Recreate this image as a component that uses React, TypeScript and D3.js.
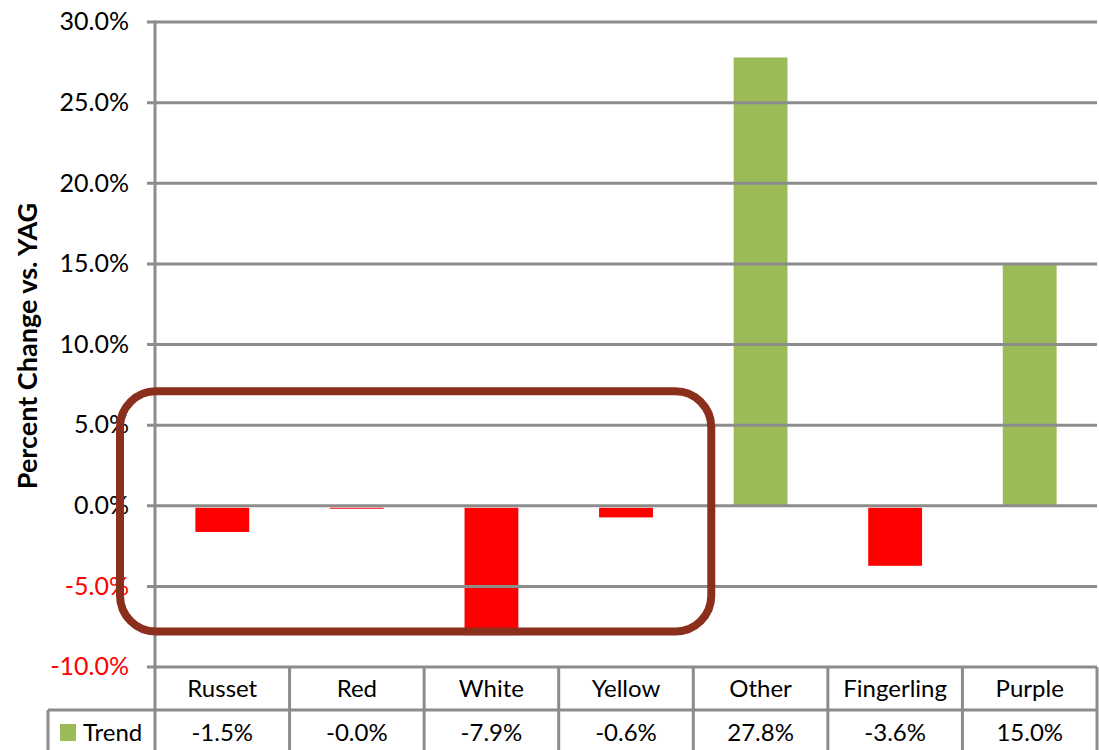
import * as d3 from 'd3';

const categories = ['Russet', 'Red', 'White', 'Yellow', 'Other', 'Fingerling', 'Purple'];
const trend = [-1.5, -0.04, -7.9, -0.6, 27.8, -3.6, 15.0];
const yTicks = [-10, -5, 0, 5, 10, 15, 20, 25, 30];
const seriesName = 'Trend';
const yTitle = 'Percent Change vs. YAG';
// highlighted group (first four categories), box limits in data units
const boxCats = ['Russet', 'Yellow'];
const boxRange = [-7.8, 7.1];

const W = 1099;
const H = 750;
const left = 155;
const right = 1097;
const top = 22;
const bottom = 667;
const row1 = 710;
const row2 = 750;
const font = 'Lato, "Open Sans", sans-serif';
const grid = '#8c8c8c';

const App = () => {
  const x = d3.scaleBand().domain(categories).range([left, right]).paddingInner(0.6).paddingOuter(0.3);
  const step = x.step();
  const y = d3.scaleLinear().domain([-10, 30]).range([bottom, top]);
  const fmt = (v: number) => v.toFixed(1) + '%';
  const cellX = (i: number) => left + i * step;

  const bx0 = cellX(categories.indexOf(boxCats[0])) - 35;
  const bx1 = cellX(categories.indexOf(boxCats[1]) + 1) + 18;
  const by0 = y(boxRange[1]);
  const by1 = y(boxRange[0]);

  return (
    <svg width={W} height={H} style={{ position: 'absolute', left: 0, top: 0, background: '#fff' }} fontFamily={font}>
      {/* bars (negative ones start just under the zero line) */}
      {categories.map((c, i) => {
        const v = trend[i];
        const off = v < 0 ? 2 : 0;
        const y0 = y(Math.max(0, v)) + off;
        const y1 = y(Math.min(0, v)) + off;
        return (
          <rect key={c} x={x(c)} y={y0} width={x.bandwidth()} height={Math.max(1, y1 - y0)}
            fill={v >= 0 ? '#9bbb59' : '#ff0000'} />
        );
      })}
      {/* gridlines + ticks */}
      {yTicks.map(t => (
        <g key={t}>
          <line x1={left - 8} x2={right} y1={y(t)} y2={y(t)} stroke={grid} strokeWidth={3} />
          <text x={129} y={y(t)} dy="0.33em" textAnchor="end" fontSize={25} fill={t < 0 ? '#ff0000' : '#000'}>
            {fmt(t)}
          </text>
        </g>
      ))}
      {/* y axis line */}
      <line x1={left} x2={left} y1={top - 1.5} y2={row2} stroke={grid} strokeWidth={3} />
      {/* data table */}
      <line x1={48} x2={right} y1={row1} y2={row1} stroke={grid} strokeWidth={3} />
      <line x1={48} x2={48} y1={row1} y2={row2} stroke={grid} strokeWidth={3} />
      {categories.map((c, i) => (
        <line key={c} x1={cellX(i + 1)} x2={cellX(i + 1)} y1={bottom} y2={row2} stroke={grid} strokeWidth={3} />
      ))}
      {categories.map((c, i) => (
        <g key={c}>
          <text x={cellX(i) + step / 2} y={697} textAnchor="middle" fontSize={24} fill="#000">{c}</text>
          <text x={cellX(i) + step / 2} y={741} textAnchor="middle" fontSize={24} fill="#000">{fmt(trend[i])}</text>
        </g>
      ))}
      <rect x={60} y={724} width={16} height={17} fill="#9bbb59" />
      <text x={83} y={741} fontSize={24} fill="#000">{seriesName}</text>
      {/* y title */}
      <text transform="translate(37,346) rotate(-90)" textAnchor="middle" fontSize={27} fontWeight="bold" fill="#000">
        {yTitle}
      </text>
      {/* highlight box */}
      <rect x={bx0} y={by0} width={bx1 - bx0} height={by1 - by0} rx={36} ry={36}
        fill="none" stroke="#8b2e1c" strokeWidth={8} />
    </svg>
  );
};

export default App;
